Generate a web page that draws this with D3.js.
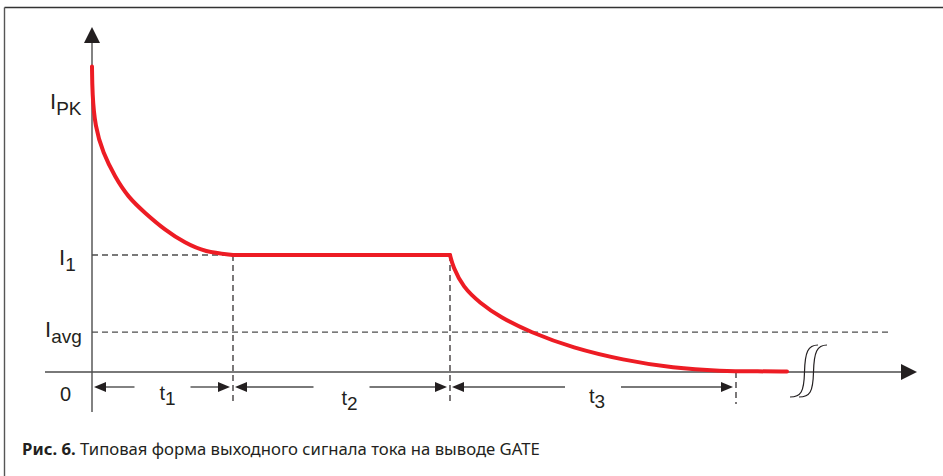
<!DOCTYPE html>
<html>
<head>
<meta charset="utf-8">
<script src="https://cdn.jsdelivr.net/npm/d3@7"></script>
<style>
  html, body { margin: 0; padding: 0; background: #fff; }
  svg { display: block; }
</style>
</head>
<body>
<div id="chart"></div>
<script>
// Waveform samples (time and current in arbitrary units)
const timeSamples = [0, 0.03, 0.3, 1.1, 2.3, 3.6, 5.3, 7.3, 9.3, 11.3, 14.1,
                     35.8, 36.1, 37.1, 38.8, 40.8, 43.8, 48.1, 53.1, 58.1, 63.1, 66, 69.5];
const currentSamples = [101.8, 92.9, 81.8, 73, 65, 58.3, 53, 47.3, 43, 40, 39,
                        39, 35, 28.3, 23, 18.3, 13.3, 8, 4, 1.3, 0.3, 0.2, 0.2];
// indices where the waveform changes shape (end of decay 1, end of plateau)
const segmentBreaks = [10, 11];

// Level markers on the current axis
const levelNames = ["PK", "1", "avg", "0"];
const levelValues = [90.7, 39, 13.3, 0];

// Phase boundaries on the time axis and their labels
const phaseEdges = [0, 14.1, 35.8, 64.4];
const phaseNames = ["1", "2", "3"];

const captionBold = "Рис. 6.";
const captionText = " Типовая форма выходного сигнала тока на выводе GATE";

const width = 943, height = 476;
const ink = "#231f20", grey = "#4d4d4d", red = "#ed1c24";

const svg = d3.select("#chart").append("svg")
    .attr("width", width)
    .attr("height", height);

// scales
const x = d3.scaleLinear().domain([0, 82.5]).range([92, 917]);
const y = d3.scaleLinear().domain([0, 115]).range([372, 27]);

// frame (top and left rule)
svg.append("line")
    .attr("x1", 4.5).attr("y1", 7.5).attr("x2", width).attr("y2", 7.5)
    .attr("stroke", "#333").attr("stroke-width", 1.6);
svg.append("line")
    .attr("x1", 4.5).attr("y1", 7.5).attr("x2", 4.5).attr("y2", height)
    .attr("stroke", "#555").attr("stroke-width", 1.4);

// dashed guides
const dash = "6,4";
svg.append("line")
    .attr("x1", x(0)).attr("x2", x(phaseEdges[1]))
    .attr("y1", y(levelValues[1])).attr("y2", y(levelValues[1]))
    .attr("stroke", grey).attr("stroke-width", 1.3).attr("stroke-dasharray", dash);
svg.append("line")
    .attr("x1", x(0)).attr("x2", 890)
    .attr("y1", y(levelValues[2])).attr("y2", y(levelValues[2]))
    .attr("stroke", grey).attr("stroke-width", 1.3).attr("stroke-dasharray", dash);

phaseEdges.slice(1).forEach((t, i) => {
    const top = i < 2 ? y(levelValues[1]) : y(0);
    svg.append("line")
        .attr("x1", x(t)).attr("x2", x(t))
        .attr("y1", top).attr("y2", 404)
        .attr("stroke", ink).attr("stroke-width", 1.2).attr("stroke-dasharray", dash);
});

// axes
svg.append("line")
    .attr("x1", x(0)).attr("x2", x(0))
    .attr("y1", y(0) + 40).attr("y2", y(115) + 14)
    .attr("stroke", grey).attr("stroke-width", 1.4);
svg.append("path")
    .attr("d", `M${x(0)},${y(115)} L${x(0) - 8},${y(115) + 16} L${x(0) + 8},${y(115) + 16} Z`)
    .attr("fill", ink);

svg.append("line")
    .attr("x1", 45).attr("x2", x(82.5) - 14)
    .attr("y1", y(0)).attr("y2", y(0))
    .attr("stroke", grey).attr("stroke-width", 1.4);
svg.append("path")
    .attr("d", `M${x(82.5)},${y(0)} L${x(82.5) - 16},${y(0) - 8} L${x(82.5) - 16},${y(0) + 8} Z`)
    .attr("fill", ink);

// break mark on the time axis
const breakMark = ox => `M${ox + 14},${y(0) - 27} C${ox + 4},${y(0) - 27} ${ox + 1},${y(0) - 20} ${ox + 0.5},${y(0)}`
    + ` C${ox},${y(0) + 20} ${ox - 3},${y(0) + 25} ${ox - 14},${y(0) + 25}`;
[804, 813].forEach(ox => {
    svg.append("path")
        .attr("d", breakMark(ox))
        .attr("fill", "none")
        .attr("stroke", ink)
        .attr("stroke-width", 1.2);
});

// waveform, drawn piece by piece so the corners stay sharp
const points = d3.zip(timeSamples, currentSamples);
const wave = d3.line()
    .x(d => x(d[0]))
    .y(d => y(d[1]))
    .curve(d3.curveBasis);

const cuts = [0, ...segmentBreaks, points.length - 1];
const pieces = d3.pairs(cuts).map(([a, b]) => points.slice(a, b + 1));

svg.selectAll("path.wave")
    .data(pieces)
    .join("path")
    .attr("class", "wave")
    .attr("d", wave)
    .attr("fill", "none")
    .attr("stroke", red)
    .attr("stroke-width", 4)
    .attr("stroke-linecap", "round")
    .attr("stroke-linejoin", "round");

// duration arrows between phase edges
const arrowY = 387, gapHalf = 28;
function arrow(x1, x2) {
    // shaft from x1 to arrow tip at x2
    const dir = Math.sign(x2 - x1);
    svg.append("line")
        .attr("x1", x1).attr("x2", x2 - dir * 10)
        .attr("y1", arrowY).attr("y2", arrowY)
        .attr("stroke", grey).attr("stroke-width", 1.4);
    svg.append("path")
        .attr("d", `M${x2},${arrowY} L${x2 - dir * 12},${arrowY - 5} L${x2 - dir * 12},${arrowY + 5} Z`)
        .attr("fill", ink);
}

const labelFont = "'Liberation Sans', Arial, sans-serif";
const phaseShift = [5, 8, 4];
const phaseDrop = [0, 5, 3];
phaseNames.forEach((n, i) => {
    const a = x(phaseEdges[i]), b = x(phaseEdges[i + 1]);
    const mid = (a + b) / 2;
    arrow(mid - gapHalf, a + 2);
    arrow(mid + gapHalf, b - 3);
    const t = svg.append("text")
        .attr("x", mid + phaseShift[i])
        .attr("y", 400 + phaseDrop[i])
        .attr("text-anchor", "middle")
        .attr("font-family", labelFont)
        .attr("font-size", 20)
        .attr("fill", ink)
        .text("t");
    t.append("tspan")
        .attr("dy", 5)
        .attr("font-size", 19)
        .text(n);
});

// level labels
const levelLabelX = [50, 59, 45, 60];
const levelLabelDy = [9, 10, 5, 29];
levelNames.forEach((n, i) => {
    const t = svg.append("text")
        .attr("x", levelLabelX[i])
        .attr("y", y(levelValues[i]) + levelLabelDy[i])
        .attr("font-family", labelFont)
        .attr("font-size", 22)
        .attr("fill", ink);
    if (n === "0") {
        t.attr("font-size", 20).text("0");
    } else {
        t.text("I");
        t.append("tspan")
            .attr("dy", 6)
            .attr("font-size", 19)
            .text(n);
    }
});

// caption
const cap = svg.append("text")
    .attr("x", 22)
    .attr("y", 455)
    .attr("font-family", "'Noto Sans', 'Open Sans', sans-serif")
    .attr("font-size", 16.7)
    .attr("fill", ink);
cap.append("tspan").attr("font-weight", "bold").text(captionBold);
cap.append("tspan").text(captionText);
</script>
</body>
</html>
